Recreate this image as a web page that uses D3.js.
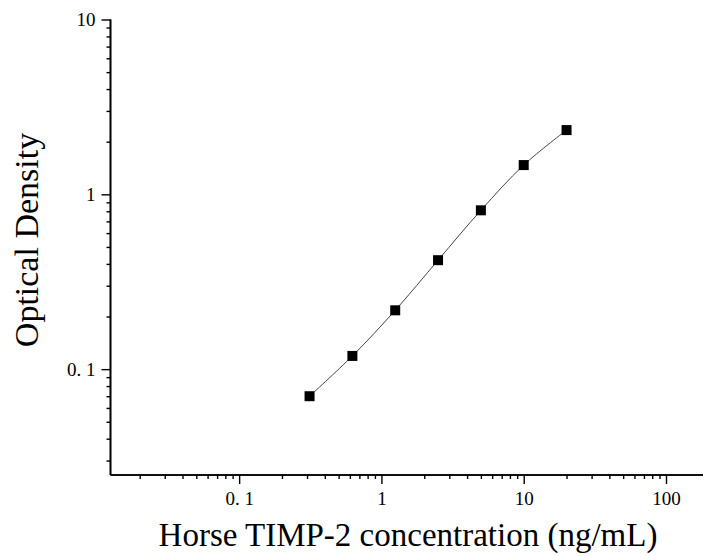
<!DOCTYPE html>
<html>
<head>
<meta charset="utf-8">
<script src="https://cdn.jsdelivr.net/npm/d3@7"></script>
<style>
  body { margin: 0; background: #fff; }
  svg { display: block; }
  .tick text { font-family: "Liberation Serif", serif; font-size: 19px; fill: #000; }
  .axis path, .axis line { stroke: #000; }
  .title { font-family: "Liberation Serif", "Times New Roman", serif; fill: #000; }
</style>
</head>
<body>
<svg id="chart"></svg>
<script>
// standard curve data
var concentration = [0.3125, 0.625, 1.25, 2.5, 5, 10, 20]
var optical_density = [0.070, 0.119, 0.217, 0.42, 0.81, 1.47, 2.33]
var x_ticks = [0.1, 1, 10, 100]
var x_tick_labels = ['0. 1', '1', '10', '100']
var y_ticks = [0.1, 1, 10]
var y_tick_labels = ['0. 1', '1', '10']

var width = 704,
    height = 557

var svg = d3.select('#chart')
    .attr('width', width)
    .attr('height', height)

var plot_left = 110.5, plot_right = 703, plot_top = 19.5, plot_bottom = 475

var x = d3.scaleLog().domain([0.01247, 182]).range([plot_left, plot_right])
var y = d3.scaleLog().domain([0.0248, 10]).range([plot_bottom, plot_top])

// minor ticks for every decade
function minorTicks(scale) {
    var d = scale.domain(), out = []
    for (let e = -3; e <= 3; e++) {
        for (let k = 2; k <= 9; k++) {
            let v = k * Math.pow(10, e)
            if (v >= d[0] && v <= d[1]) out.push(v)
        }
    }
    return out
}

var xAxis = svg.append('g')
    .attr('class', 'axis')
    .attr('transform', 'translate(0,' + plot_bottom + ')')
xAxis.call(d3.axisBottom(x).tickValues(minorTicks(x)).tickSize(4).tickFormat(''))
xAxis.append('g').call(d3.axisBottom(x).tickValues(x_ticks).tickSize(9).tickPadding(8)
    .tickFormat((d, i) => x_tick_labels[i]))
xAxis.selectAll('path.domain').attr('d', 'M' + plot_left + ',0H' + plot_right).attr('stroke-width', 1.6)
xAxis.selectAll('line').attr('stroke-width', 1.4)

var yAxis = svg.append('g')
    .attr('class', 'axis')
    .attr('transform', 'translate(' + plot_left + ',0)')
yAxis.call(d3.axisLeft(y).tickValues(minorTicks(y)).tickSize(4).tickFormat(''))
yAxis.append('g').call(d3.axisLeft(y).tickValues(y_ticks).tickSize(9).tickPadding(6)
    .tickFormat((d, i) => y_tick_labels[i]))
yAxis.selectAll('path.domain').attr('d', 'M0,' + plot_top + 'V' + plot_bottom).attr('stroke-width', 1.6)
yAxis.selectAll('line').attr('stroke-width', 1.4)

// fitted curve
var points = concentration.map((c, i) => [c, optical_density[i]])
var line = d3.line()
    .x((d) => x(d[0]))
    .y((d) => y(d[1]))
    .curve(d3.curveCatmullRom.alpha(0.5))

svg.append('path')
    .datum(points)
    .attr('d', line)
    .attr('fill', 'none')
    .attr('stroke', '#444')
    .attr('stroke-width', 1)

svg.selectAll('.pt')
    .data(points)
    .enter().append('rect')
    .attr('class', 'pt')
    .attr('x', (d) => x(d[0]) - 5)
    .attr('y', (d) => y(d[1]) - 5)
    .attr('width', 10)
    .attr('height', 10)
    .attr('fill', '#000')

svg.append('text')
    .attr('class', 'title')
    .attr('x', 408)
    .attr('y', 546)
    .attr('text-anchor', 'middle')
    .style('font-size', '33px')
    .text('Horse TIMP-2 concentration (ng/mL)')

svg.append('text')
    .attr('class', 'title')
    .attr('transform', 'translate(38,240) rotate(-90)')
    .attr('text-anchor', 'middle')
    .style('font-size', '34px')
    .text('Optical Density')
</script>
</body>
</html>
